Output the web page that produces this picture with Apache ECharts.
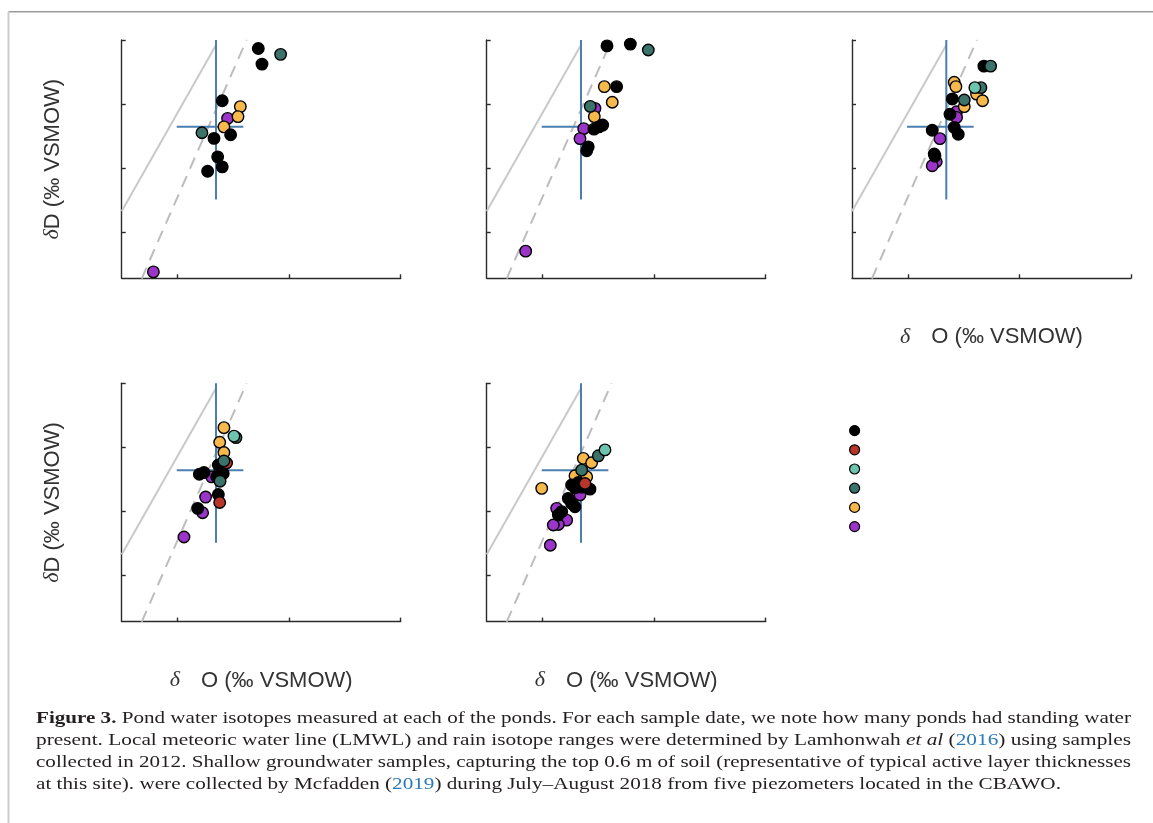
<!DOCTYPE html>
<html>
<head>
<meta charset="utf-8">
<script src="https://cdn.jsdelivr.net/npm/echarts@6/dist/echarts.min.js"></script>
<style>
html,body{margin:0;padding:0;background:#fff;}
#chart{width:1153px;height:823px;}
</style>
</head>
<body>
<div id="chart"></div>
<script>
// ---------- axis ranges and ticks ----------
const xMin = -25, xMax = 0;
const yMin = -193, yMax = -100;
const xTicks = [-20, -10, 0];
const yTicks = [-175, -150, -125, -100];

// ---------- reference lines ----------
const lmwl = [[-25, -166.8], [-16.55, -101.95]];          // solid grey
const dashedLine = [[-23.21, -193.1], [-13.81, -100]];    // dashed grey
const rainO18Range = [-20.07, -14.1];
const rainO18Mean = -16.55;
const rainDRange = [-162.2, -100];
const rainDMean = -133.9;

// ---------- groups ----------
const groupNames = ['Group 1', 'Group 2', 'Group 3', 'Group 4', 'Group 5', 'Group 6'];
const groupColors = ['#000000', '#b8352a', '#6cc3ae', '#3b736b', '#f7b94b', '#9b35c9'];
// indices: 0 black, 1 red, 2 light teal, 3 dark teal, 4 yellow, 5 purple

// ---------- panel 1 ----------
const p1Black = [[-12.76,-103.3],[-12.43,-109.4],[-15.99,-123.7],[-15.24,-137.0],[-16.73,-138.4],[-16.40,-145.6],[-15.99,-149.5],[-17.30,-151.2]];
const p1DarkTeal = [[-10.76,-105.6],[-17.81,-136.2]];
const p1Yellow = [[-14.37,-126.0],[-14.58,-129.9],[-15.84,-133.9]];
const p1Purple = [[-15.51,-130.6],[-22.16,-190.5]];

// ---------- panel 2 ----------
const p2Black = [[-14.22,-102.3],[-12.13,-101.6],[-13.36,-118.2],[-14.61,-133.2],[-14.94,-133.9],[-15.39,-134.8],[-15.90,-141.7],[-16.04,-143.2]];
const p2DarkTeal = [[-10.52,-103.9],[-15.72,-125.9]];
const p2Yellow = [[-14.46,-118.2],[-13.75,-124.3],[-15.36,-129.9]];
const p2Purple = [[-15.30,-126.7],[-16.31,-134.6],[-16.64,-138.5],[-21.51,-182.4]];

// ---------- panel 3 ----------
const p3Black = [[-13.18,-110.2],[-16.01,-123.0],[-16.22,-129.0],[-17.81,-135.2],[-15.84,-134.1],[-15.48,-136.8],[-17.63,-144.5],[-17.57,-145.3]];
const p3DarkTeal = [[-12.58,-110.2],[-13.45,-118.6],[-14.94,-123.4]];
const p3LightTeal = [[-13.99,-118.6]];
const p3Yellow = [[-15.84,-116.5],[-15.69,-118.2],[-13.84,-121.1],[-13.30,-123.7],[-14.94,-126.0]];
const p3Purple = [[-15.63,-128.0],[-15.63,-130.2],[-17.12,-138.5],[-17.45,-147.5],[-17.81,-149.1]];

// ---------- panel 4 ----------
const p4Black = [[-16.34,-131.9],[-15.90,-135.2],[-17.63,-134.8],[-18.04,-135.5],[-16.49,-136.5],[-16.34,-143.4],[-18.19,-148.8]];
const p4Red = [[-15.60,-131.1],[-16.22,-146.5]];
const p4LightTeal = [[-14.94,-120.6]];
const p4DarkTeal = [[-14.76,-121.2],[-15.84,-130.3],[-16.19,-138.2]];
const p4Yellow = [[-15.84,-117.3],[-16.22,-123.0],[-15.84,-127.0],[-16.19,-134.1]];
const p4Purple = [[-16.94,-136.5],[-17.48,-144.4],[-17.75,-150.5],[-19.42,-160.0]];

// ---------- panel 5 ----------
const p5Black = [[-17.39,-139.7],[-16.79,-138.7],[-17.09,-140.8],[-15.75,-141.3],[-17.69,-144.9],[-17.39,-146.9],[-17.09,-148.2],[-18.28,-150.1],[-18.58,-151.4],[-16.5,-140.5]];
const p5Red = [[-16.19,-139.1]];
const p5LightTeal = [[-14.40,-126.0]];
const p5DarkTeal = [[-15.00,-128.3],[-16.49,-133.9]];
const p5Yellow = [[-16.34,-129.3],[-15.60,-131.0],[-17.09,-136.1],[-16.04,-136.5],[-20.07,-141.0]];
const p5Purple = [[-16.64,-143.6],[-18.73,-148.8],[-17.84,-153.4],[-18.58,-155.1],[-19.03,-155.3],[-19.30,-163.2]];

// draw order per panel: purple, yellow, black, red, dark teal, light teal  -> [groupIndex, data]
const panels = [
  [[5,p1Purple],[4,p1Yellow],[0,p1Black],[3,p1DarkTeal]],
  [[5,p2Purple],[4,p2Yellow],[0,p2Black],[3,p2DarkTeal]],
  [[5,p3Purple],[4,p3Yellow],[0,p3Black],[3,p3DarkTeal],[2,p3LightTeal]],
  [[5,p4Purple],[4,p4Yellow],[0,p4Black],[1,p4Red],[3,p4DarkTeal],[2,p4LightTeal]],
  [[5,p5Purple],[4,p5Yellow],[0,p5Black],[1,p5Red],[3,p5DarkTeal],[2,p5LightTeal]]
];

// ---------- layout ----------
const gridPos = [[121.7,40],[486.7,40],[852,40],[121.7,383.3],[486.7,383.3]];
const gridW = 279, gridH = 238.3;
const showYName = [true,false,false,true,false];
const showXName = [false,false,true,true,true];

const axisColor = '#2b2b2b';
const nameRich = {
  d:{fontFamily:'Liberation Serif', fontStyle:'italic', fontSize:22, color:'#333'},
  dx:{fontFamily:'Liberation Serif', fontStyle:'italic', fontSize:22, color:'#333', padding:[0,21,0,0]},
  t:{fontFamily:'Liberation Sans', fontSize:22, color:'#333'}
};

const grids = [], xAxes = [], yAxes = [], series = [];
gridPos.forEach((p,i)=>{
  grids.push({left:p[0], top:p[1], width:gridW, height:gridH, containLabel:false});
  xAxes.push({
    type:'value', gridIndex:i, min:xMin, max:xMax,
    axisLine:{show:true,onZero:false,lineStyle:{color:axisColor,width:1.4}},
    axisTick:{show:true,inside:true,length:4,customValues:xTicks,lineStyle:{color:axisColor,width:1.4}},
    axisLabel:{show:false}, splitLine:{show:false},
    name: showXName[i] ? '{dx|δ}{t|O (‰ VSMOW)}' : '',
    nameLocation:'middle', nameGap:48,
    nameTextStyle:{rich:nameRich, color:'#333', fontSize:22}
  });
  yAxes.push({
    type:'value', gridIndex:i, min:yMin, max:yMax,
    axisLine:{show:true,onZero:false,lineStyle:{color:axisColor,width:1.4}},
    axisTick:{show:true,inside:true,length:4,customValues:yTicks,lineStyle:{color:axisColor,width:1.4}},
    axisLabel:{show:false}, splitLine:{show:false},
    name: showYName[i] ? '{d|δ}{t|D (‰ VSMOW)}' : '',
    nameLocation:'middle', nameGap:58, nameRotate:90,
    nameTextStyle:{rich:nameRich, color:'#333', fontSize:22}
  });
  const base = {xAxisIndex:i, yAxisIndex:i, silent:true, animation:false};
  series.push(Object.assign({type:'line', data:lmwl, symbol:'none', z:1,
    lineStyle:{color:'#c9c9c9', width:2}}, base));
  series.push(Object.assign({type:'line', data:dashedLine, symbol:'none', z:1,
    lineStyle:{color:'#bdbdbd', width:2, type:[12,8]}}, base));
  series.push(Object.assign({type:'line', data:[[rainO18Range[0],rainDMean],[rainO18Range[1],rainDMean]], symbol:'none', z:2,
    lineStyle:{color:'#4a7fb0', width:2}}, base));
  series.push(Object.assign({type:'line', data:[[rainO18Mean,rainDRange[0]],[rainO18Mean,rainDRange[1]]], symbol:'none', z:2,
    lineStyle:{color:'#4a7fb0', width:2}}, base));
  panels[i].forEach(([g,data])=>{
    series.push(Object.assign({type:'scatter', name:groupNames[g], data:data, symbol:'circle', symbolSize:11.5, z:3,
      itemStyle:{color:groupColors[g], borderColor:'#000', borderWidth:1.4, opacity:1}}, base));
  });
});

// ---------- caption ----------
const captionLines = [
  [['b','Figure 3.'],['n',' Pond water isotopes measured at each of the ponds. For each sample date, we note how many ponds had standing water']],
  [['n','present. Local meteoric water line (LMWL) and rain isotope ranges were determined by Lamhonwah '],['i','et al'],['n',' ('],['a','2016'],['n',') using samples']],
  [['n','collected in 2012. Shallow groundwater samples, capturing the top 0.6 m of soil (representative of typical active layer thicknesses']],
  [['n','at this site). were collected by Mcfadden ('],['a','2019'],['n',') during July–August 2018 from five piezometers located in the CBAWO.']]
];
const capSize = 17;
const capFonts = {
  n:`${capSize}px "Liberation Serif"`,
  b:`bold ${capSize}px "Liberation Serif"`,
  i:`italic ${capSize}px "Liberation Serif"`,
  a:`${capSize}px "Liberation Serif"`
};
const capRich = {
  n:{fontFamily:'Liberation Serif', fontSize:capSize, fill:'#231f20', color:'#231f20'},
  b:{fontFamily:'Liberation Serif', fontSize:capSize, fontWeight:'bold', fill:'#231f20', color:'#231f20'},
  i:{fontFamily:'Liberation Serif', fontSize:capSize, fontStyle:'italic', fill:'#231f20', color:'#231f20'},
  a:{fontFamily:'Liberation Serif', fontSize:capSize, fill:'#2a7ab8', color:'#2a7ab8'}
};
const mctx = document.createElement('canvas').getContext('2d');
function lineWidth(segs){
  let w = 0;
  segs.forEach(([k,t])=>{ mctx.font = capFonts[k]; w += mctx.measureText(t).width; });
  return w;
}
const capLeft = 36, capRight = 1131;
const capY = [719, 741, 763, 785];
const scales = captionLines.map(l => (capRight - capLeft) / lineWidth(l));
const avgScale = (scales[0] + scales[1] + scales[2]) / 3;
const graphics = [
  {type:'line', shape:{x1:8.5,y1:11.7,x2:1153,y2:11.7}, style:{stroke:'#9a9a9a', lineWidth:1.5}, silent:true},
  {type:'line', shape:{x1:8.5,y1:11.7,x2:8.5,y2:823}, style:{stroke:'#cccccc', lineWidth:2}, silent:true}
];
captionLines.forEach((segs,i)=>{
  const s = i < 3 ? scales[i] : avgScale;
  graphics.push({
    type:'text', x:capLeft, y:capY[i], scaleX:s, scaleY:1, silent:true,
    style:{
      text: segs.map(([k,t])=>'{'+k+'|'+t+'}').join(''),
      rich: capRich, align:'left', verticalAlign:'middle'
    }
  });
});

const chart = echarts.init(document.getElementById('chart'), null, {renderer:'canvas'});
chart.setOption({
  animation:false,
  backgroundColor:'#ffffff',
  grid: grids,
  xAxis: xAxes,
  yAxis: yAxes,
  legend:{
    data: groupNames,
    orient:'vertical', left:844, top:420, padding:5,
    icon:'circle', itemWidth:10, itemHeight:10, itemGap:8,
    formatter: () => '',
    textStyle:{fontSize:8, lineHeight:10},
    itemStyle:{borderColor:'#000', borderWidth:1.2},
    selectedMode:false
  },
  graphic: graphics,
  series: series
});
</script>
</body>
</html>
